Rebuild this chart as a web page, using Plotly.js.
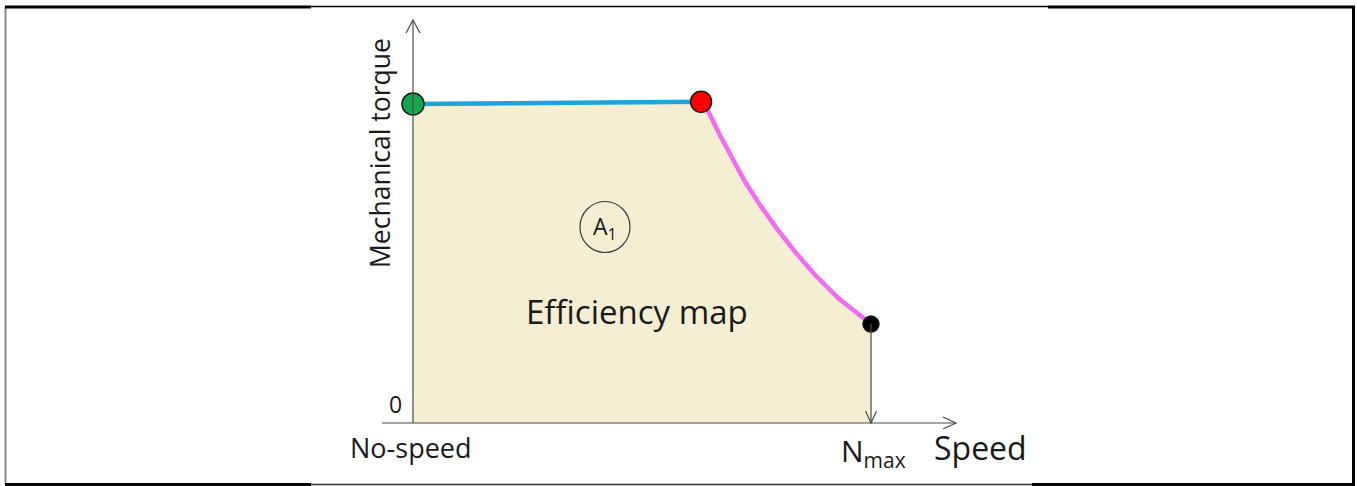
<!DOCTYPE html>
<html>
<head>
<meta charset="utf-8">
<script src="https://cdn.plot.ly/plotly-3.0.1.min.js"></script>
<style>
  html, body { margin: 0; padding: 0; background: #ffffff; }
  #chart { width: 1357px; height: 486px; }
</style>
</head>
<body>
<div id="chart"></div>
<script>
// Operating envelope of the machine, speed normalised to N_max, torque to the rated value.
const constTorqueSpeed = [0, 0.629];
const constTorqueValue = [1.0, 1.007];

const fieldWeakSpeed = [0.629, 0.645, 0.670, 0.696, 0.725, 0.758, 0.794, 0.834, 0.878, 0.929, 0.980, 1.0];
const fieldWeakTorque = [1.007, 0.976, 0.903, 0.830, 0.756, 0.683, 0.610, 0.537, 0.464, 0.391, 0.333, 0.310];

const cornerNames = ['start', 'base speed', 'max speed'];
const cornerSpeed = [0, 0.629, 1.0];
const cornerTorque = [1.0, 1.007, 0.310];
const cornerColors = ['#12a84b', '#ff0000', '#000000'];
const cornerSizes = [22, 21, 16];

const xTickVals = [0, 1];
const xTickText = ['No-speed', 'N<sub>max</sub>'];
const yTickText = '0';

// Canvas geometry: pixel position of the origin and pixels per unit.
const W = 1357, H = 486;
const OX = 413, OY = 423, SX = 458, SY = 319;
const X = px => (px - OX) / SX;
const Y = py => (OY - py) / SY;
const dx = p => p / SX;
const dy = p => p / SY;

const FONT = '"Open Sans", "Noto Sans", "DejaVu Sans", sans-serif';
const AXIS = '#4a4a4a';

// Filled efficiency-map region under the envelope.
const envX = [0].concat(constTorqueSpeed, fieldWeakSpeed.slice(1), [1.0, 0]);
const envY = [0].concat(constTorqueValue, fieldWeakTorque.slice(1), [0, 0]);

const traces = [
  {
    x: envX, y: envY, mode: 'lines', fill: 'toself',
    fillcolor: '#f4eed3', line: { width: 0, color: 'rgba(0,0,0,0)' },
    hoverinfo: 'skip', showlegend: false
  },
  {
    x: constTorqueSpeed, y: constTorqueValue, mode: 'lines',
    line: { color: '#1ea3da', width: 4.5 }, showlegend: false
  },
  {
    x: fieldWeakSpeed, y: fieldWeakTorque, mode: 'lines',
    line: { color: '#f06cf0', width: 4.5, shape: 'linear' }, showlegend: false
  },
  {
    x: cornerSpeed, y: cornerTorque, text: cornerNames, mode: 'markers', opacity: 1,
    marker: { color: cornerColors, size: cornerSizes, opacity: 1, line: { color: '#1a1a1a', width: 1.5 } },
    showlegend: false, hoverinfo: 'text'
  }
];

// Arrow chevron helper (open "V" head) in data coordinates.
function chevron(tipX, tipY, dir, len, half) {
  let a, b;
  if (dir === 'up') { a = [tipX - dx(half), tipY - dy(len)]; b = [tipX + dx(half), tipY - dy(len)]; }
  if (dir === 'down') { a = [tipX - dx(half), tipY + dy(len)]; b = [tipX + dx(half), tipY + dy(len)]; }
  if (dir === 'right') { a = [tipX - dx(len), tipY + dy(half)]; b = [tipX - dx(len), tipY - dy(half)]; }
  return {
    type: 'path', xref: 'x', yref: 'y',
    path: `M ${a[0]},${a[1]} L ${tipX},${tipY} L ${b[0]},${b[1]}`,
    line: { color: AXIS, width: 1.2 }
  };
}

const yTop = Y(20), xEnd = X(956), xStart = X(382);
const lastIdx = cornerSpeed.length - 1;

const shapes = [
  // axes
  { type: 'line', xref: 'x', yref: 'y', x0: 0, x1: 0, y0: 0, y1: yTop, line: { color: AXIS, width: 1.2 } },
  { type: 'line', xref: 'x', yref: 'y', x0: xStart, x1: xEnd, y0: 0, y1: 0, line: { color: AXIS, width: 1.2 } },
  chevron(0, yTop, 'up', 13, 7),
  chevron(xEnd, 0, 'right', 13, 6),
  // drop line from the max-speed point to the axis
  { type: 'line', xref: 'x', yref: 'y', x0: cornerSpeed[lastIdx], x1: cornerSpeed[lastIdx],
    y0: cornerTorque[lastIdx], y1: 0, line: { color: AXIS, width: 1.2 } },
  chevron(cornerSpeed[lastIdx], 0, 'down', 12, 5.5),
  // region label ring
  { type: 'circle', xref: 'x', yref: 'y', x0: X(605) - dx(25), x1: X(605) + dx(25),
    y0: Y(227) - dy(25.5), y1: Y(227) + dy(25.5), line: { color: '#3a3a3a', width: 1.2 } },
  // outer frame
  { type: 'line', xref: 'paper', yref: 'paper', x0: 5.5 / W, x1: 5.5 / W, y0: 1 - 7 / H, y1: 1 - 484 / H, line: { color: '#8a8a8a', width: 2 } },
  { type: 'line', xref: 'paper', yref: 'paper', x0: 1353.5 / W, x1: 1353.5 / W, y0: 1 - 6 / H, y1: 1 - 485 / H, line: { color: '#000', width: 3 } },
  { type: 'line', xref: 'paper', yref: 'paper', x0: 5 / W, x1: 311 / W, y0: 1 - 7 / H, y1: 1 - 7 / H, line: { color: '#000', width: 3 } },
  { type: 'line', xref: 'paper', yref: 'paper', x0: 311 / W, x1: 1048 / W, y0: 1 - 6.5 / H, y1: 1 - 6.5 / H, line: { color: '#000', width: 1.5 } },
  { type: 'line', xref: 'paper', yref: 'paper', x0: 1048 / W, x1: 1355 / W, y0: 1 - 7 / H, y1: 1 - 7 / H, line: { color: '#000', width: 3 } },
  { type: 'line', xref: 'paper', yref: 'paper', x0: 5 / W, x1: 311 / W, y0: 1 - 484.5 / H, y1: 1 - 484.5 / H, line: { color: '#000', width: 3 } },
  { type: 'line', xref: 'paper', yref: 'paper', x0: 311 / W, x1: 1032 / W, y0: 1 - 484.5 / H, y1: 1 - 484.5 / H, line: { color: '#333', width: 1.5 } },
  { type: 'line', xref: 'paper', yref: 'paper', x0: 1032 / W, x1: 1355 / W, y0: 1 - 484.5 / H, y1: 1 - 484.5 / H, line: { color: '#000', width: 3 } }
];

const txt = (text, x, y, size, extra) => Object.assign({
  text: text, x: x, y: y, xref: 'x', yref: 'y', showarrow: false,
  xanchor: 'center', yanchor: 'middle',
  font: { family: FONT, size: size, color: '#1a1a1a' }
}, extra || {});

const annotations = [
  txt(yTickText, X(395), Y(404), 23),
  txt(xTickText[0], xTickVals[0] - dx(2), Y(447), 27),
  txt(xTickText[1], xTickVals[1] + dx(2), Y(452), 30),
  txt('Speed', X(980), Y(447), 32),
  txt('Mechanical torque', X(380), Y(153), 26.5, { textangle: -90 }),
  txt('Efficiency map', X(637), Y(311), 33),
  txt('A<sub>1</sub>', X(605), Y(227), 23)
];

const layout = {
  width: W, height: H,
  margin: { l: 0, r: 0, t: 0, b: 0 },
  paper_bgcolor: '#ffffff', plot_bgcolor: '#ffffff',
  xaxis: { range: [X(0), X(W)], visible: false, fixedrange: true },
  yaxis: { range: [Y(H), Y(0)], visible: false, fixedrange: true },
  shapes: shapes,
  annotations: annotations,
  showlegend: false
};

Plotly.newPlot('chart', traces, layout, { displayModeBar: false, staticPlot: true });
</script>
</body>
</html>
